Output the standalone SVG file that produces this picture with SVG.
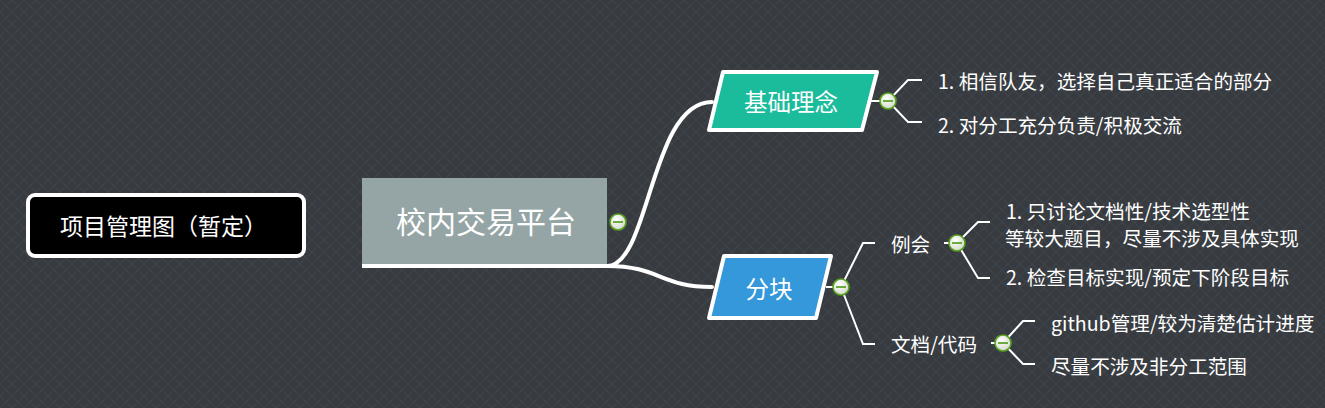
<svg xmlns="http://www.w3.org/2000/svg" width="1325" height="408" viewBox="0 0 1325 408">
<defs>
<pattern id="bg" width="12" height="12" patternUnits="userSpaceOnUse">
<rect width="12" height="12" fill="#373b40"/>
<path d="M0,0 L12,12 M12,0 L0,12" stroke="#3e4349" stroke-width="1.2"/>
</pattern>
<radialGradient id="cg" cx="0.4" cy="0.35" r="0.7">
<stop offset="0" stop-color="#ffffff"/>
<stop offset="1" stop-color="#cfd8c8"/>
</radialGradient>
<g id="coll">
<circle r="8" fill="url(#cg)" stroke="#5aa21e" stroke-width="1.6"/>
<line x1="-5" y1="0" x2="5" y2="0" stroke="#4a9a10" stroke-width="1.6"/>
</g>
</defs>
<style>
.t{font-family:"Noto Sans CJK SC","Noto Sans",sans-serif;fill:#ffffff}
.s{font-size:19.6px}
.br{fill:none;stroke:#ffffff;stroke-width:2}
.main{fill:none;stroke:#ffffff;stroke-width:4;stroke-linecap:round}
</style>
<rect width="1325" height="408" fill="url(#bg)"/>
<g id="connectors">
<path class="main" d="M607,266 C650,266 650,102 712,102"/>
<path class="main" d="M607,266 C660,266 660,287 712,287"/>
<line class="br" x1="870" y1="101" x2="881" y2="101"/>
<path class="br" d="M888,101 L908,80 L922,80 M888,101 L908,122 L922,122"/>
<line class="br" x1="826" y1="287" x2="834" y2="287"/>
<path class="br" d="M841,287 L863,243 L875,243 M841,287 L863,344 L875,344"/>
<line class="br" x1="944" y1="243" x2="950" y2="243"/>
<path class="br" d="M957,243 L978,222 L990,222 M957,243 L978,278 L990,278"/>
<line class="br" x1="991" y1="343" x2="996" y2="343"/>
<path class="br" d="M1003,343 L1023,321 L1035,321 M1003,343 L1023,364 L1035,364"/>
</g>
<g id="title">
<rect x="28" y="195" width="276" height="61" rx="7" fill="#000000" stroke="#ffffff" stroke-width="4"/>
<text class="t" x="60" y="235" font-size="23">项目管理图（暂定）</text>
</g>
<g id="root">
<rect x="362" y="178" width="245" height="88" fill="#95a5a5"/>
<line x1="362" y1="266" x2="609" y2="266" stroke="#ffffff" stroke-width="4"/>
<text class="t" x="486" y="233" font-size="30" text-anchor="middle">校内交易平台</text>
<use href="#coll" x="618" y="222"/>
</g>
<g id="n-jichu">
<polygon points="723,72 877,72 862,130 709,130" fill="#1abc9c" stroke="#ffffff" stroke-width="4" stroke-linejoin="round"/>
<text class="t" x="791" y="111" font-size="23.5" text-anchor="middle">基础理念</text>
<use href="#coll" x="888" y="101"/>
</g>
<g id="n-jichu-1"><text class="t s" x="938" y="89">1. 相信队友，选择自己真正适合的部分</text></g>
<g id="n-jichu-2"><text class="t s" x="938" y="133">2. 对分工充分负责/积极交流</text></g>
<g id="n-fenkuai">
<polygon points="724,256 831,256 816,318 709,318" fill="#3498db" stroke="#ffffff" stroke-width="4" stroke-linejoin="round"/>
<text class="t" x="769" y="298" font-size="23.5" text-anchor="middle">分块</text>
<use href="#coll" x="841" y="287"/>
</g>
<g id="n-lihui">
<text class="t s" x="891" y="252">例会</text>
<use href="#coll" x="957" y="243"/>
</g>
<g id="n-lihui-1">
<text class="t s" x="1006" y="219">1. 只讨论文档性/技术选型性</text>
<text class="t s" x="1005" y="246">等较大题目，尽量不涉及具体实现</text>
</g>
<g id="n-lihui-2"><text class="t s" x="1006" y="285">2. 检查目标实现/预定下阶段目标</text></g>
<g id="n-wendang">
<text class="t s" x="891" y="352">文档/代码</text>
<use href="#coll" x="1003" y="343"/>
</g>
<g id="n-wendang-1"><text class="t s" x="1051" y="331">github管理/较为清楚估计进度</text></g>
<g id="n-wendang-2"><text class="t s" x="1051" y="374">尽量不涉及非分工范围</text></g>
</svg>
